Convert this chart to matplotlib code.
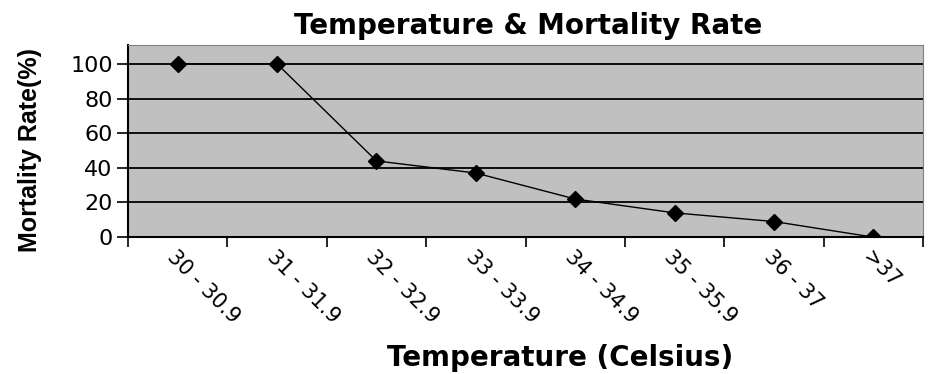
import matplotlib
matplotlib.use("Agg")
import matplotlib.pyplot as plt
import numpy as np

# Datos
categories = ["30 - 30.9", "31 - 31.9", "32 - 32.9", "33 - 33.9",
              "34 - 34.9", "35 - 35.9", "36 - 37", ">37"]
mortality = [100, 100, 44, 37, 22, 14, 9, 0]
y_ticks = [0, 20, 40, 60, 80, 100]

plt.rcParams["font.family"] = ["DejaVu Sans"]

fig = plt.figure(figsize=(9.38, 3.74), dpi=100)
ax = fig.add_axes([0.1365, 0.366, 0.8475, 0.514])
ax.set_facecolor("#c0c0c0")

x = np.arange(len(categories))
ax.plot(x, mortality, color="black", linewidth=1.0, marker="D",
        markersize=8, markerfacecolor="black", zorder=3)

ax.set_xlim(-0.5, len(categories) - 0.5)
ax.set_ylim(0, 111)

# gridlines horizontales
ax.set_yticks(y_ticks)
ax.yaxis.grid(True, color="black", linewidth=1.3)
ax.set_axisbelow(True)
ax.tick_params(axis="y", direction="out", length=8, width=1.2,
               labelsize=16, pad=3)

# marcas en los bordes de categoría, etiquetas en el centro
ax.set_xticks(np.arange(-0.5, len(categories)), minor=False)
ax.set_xticklabels([""] * (len(categories) + 1))
ax.tick_params(axis="x", which="major", direction="out", length=7, width=1.2)
ax.set_xticks(x, minor=True)
ax.set_xticklabels(categories, minor=True, rotation=-45, ha="left",
                   va="top", rotation_mode="anchor", fontsize=15)
ax.tick_params(axis="x", which="minor", length=0, pad=7)

ax.spines["left"].set_linewidth(1.5)
ax.spines["bottom"].set_linewidth(1.5)
ax.spines["top"].set_color("#808080")
ax.spines["right"].set_color("#808080")

fig.text(0.563, 0.930, "Temperature & Mortality Rate", ha="center",
         va="center", fontsize=20, fontweight="bold")
fig.text(0.032, 0.60, "Mortality Rate(%)", ha="center", va="center",
         rotation=90, fontsize=18, fontweight="bold",
         family="Liberation Sans")
fig.text(0.597, 0.043, "Temperature (Celsius)", ha="center", va="center",
         fontsize=20, fontweight="bold")

fig.savefig("out.png", dpi=100)
